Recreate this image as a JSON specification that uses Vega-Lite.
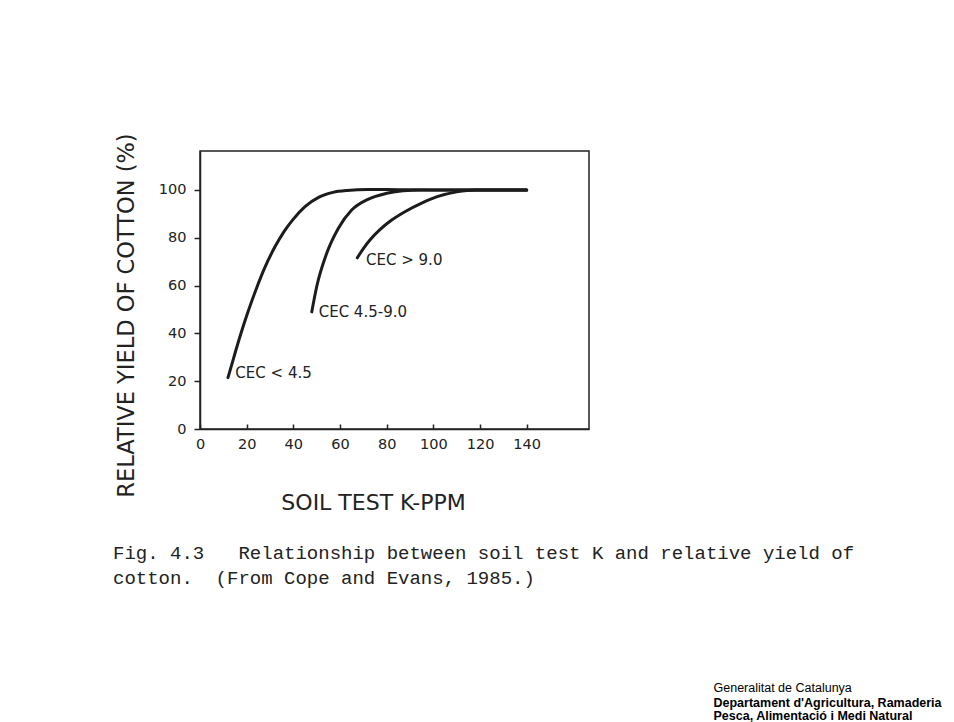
{
  "$schema": "https://vega.github.io/schema/vega-lite/v6.json",
  "width": 389,
  "height": 278,
  "autosize": {"type": "none"},
  "padding": {"left": 200, "top": 151, "right": 365, "bottom": 293},
  "background": "white",
  "config": {
    "view": {"stroke": "#222", "strokeWidth": 1.5},
    "axis": {"grid": false}
  },
  "title": {
    "text": ["Fig. 4.3\u00a0\u00a0\u00a0Relationship between soil test K and relative yield of", "cotton.\u00a0\u00a0(From Cope and Evans, 1985.)"],
    "orient": "bottom",
    "anchor": "start",
    "frame": "group",
    "dx": -87,
    "offset": -178,
    "font": "Liberation Mono",
    "fontSize": 19,
    "fontWeight": "normal",
    "color": "#222",
    "lineHeight": 25
  },
  "datasets": {
    "curves": [
      {"series": "CEC<4.5", "k": 12, "yield": 21.5},
      {"series": "CEC<4.5", "k": 14.5, "yield": 30},
      {"series": "CEC<4.5", "k": 17.1, "yield": 38.6},
      {"series": "CEC<4.5", "k": 20.5, "yield": 48.8},
      {"series": "CEC<4.5", "k": 24.3, "yield": 59.1},
      {"series": "CEC<4.5", "k": 28, "yield": 68},
      {"series": "CEC<4.5", "k": 32, "yield": 76},
      {"series": "CEC<4.5", "k": 36, "yield": 82.6},
      {"series": "CEC<4.5", "k": 40, "yield": 87.8},
      {"series": "CEC<4.5", "k": 45, "yield": 93},
      {"series": "CEC<4.5", "k": 51, "yield": 97},
      {"series": "CEC<4.5", "k": 57, "yield": 99},
      {"series": "CEC<4.5", "k": 63, "yield": 99.8},
      {"series": "CEC<4.5", "k": 72, "yield": 100.2},
      {"series": "CEC<4.5", "k": 85, "yield": 100.1},
      {"series": "CEC<4.5", "k": 100, "yield": 100},
      {"series": "CEC<4.5", "k": 140, "yield": 100},
      {"series": "CEC 4.5-9.0", "k": 47.9, "yield": 49},
      {"series": "CEC 4.5-9.0", "k": 50, "yield": 59.5},
      {"series": "CEC 4.5-9.0", "k": 54.3, "yield": 73.5},
      {"series": "CEC 4.5-9.0", "k": 59.3, "yield": 84},
      {"series": "CEC 4.5-9.0", "k": 65, "yield": 91.6},
      {"series": "CEC 4.5-9.0", "k": 72, "yield": 96.1},
      {"series": "CEC 4.5-9.0", "k": 80, "yield": 98.6},
      {"series": "CEC 4.5-9.0", "k": 87, "yield": 99.7},
      {"series": "CEC 4.5-9.0", "k": 95, "yield": 100},
      {"series": "CEC 4.5-9.0", "k": 140, "yield": 100},
      {"series": "CEC>9.0", "k": 67.4, "yield": 71.6},
      {"series": "CEC>9.0", "k": 70, "yield": 75.5},
      {"series": "CEC>9.0", "k": 73, "yield": 79.3},
      {"series": "CEC>9.0", "k": 77, "yield": 83.3},
      {"series": "CEC>9.0", "k": 82, "yield": 87.3},
      {"series": "CEC>9.0", "k": 88, "yield": 91},
      {"series": "CEC>9.0", "k": 95, "yield": 94.5},
      {"series": "CEC>9.0", "k": 102, "yield": 97.3},
      {"series": "CEC>9.0", "k": 110, "yield": 99.2},
      {"series": "CEC>9.0", "k": 118, "yield": 100},
      {"series": "CEC>9.0", "k": 140, "yield": 100}
    ],
    "labels": [
      {"label": "CEC < 4.5", "k": 14.3, "yield": 23.6},
      {"label": "CEC 4.5-9.0", "k": 50, "yield": 49},
      {"label": "CEC > 9.0", "k": 70.3, "yield": 70.7}
    ]
  },
  "layer": [
    {
      "data": {"name": "curves"},
      "mark": {"type": "line", "interpolate": "monotone", "strokeWidth": 3, "color": "#1c1c1c", "strokeCap": "round"},
      "encoding": {
        "x": {
          "field": "k", "type": "quantitative",
          "scale": {"domain": [0, 166.7], "nice": false, "zero": false},
          "axis": {
            "values": [0, 20, 40, 60, 80, 100, 120, 140],
            "title": "SOIL TEST K-PPM",
            "titleFont": "DejaVu Sans", "titleFontSize": 22, "titleFontWeight": "normal", "titleColor": "#222",
            "titleX": 173, "titleY": 73, "titleAlign": "center", "titleBaseline": "middle",
            "labelFont": "DejaVu Sans", "labelFontSize": 14.5, "labelColor": "#222", "labelFlush": false,
            "tickSize": -5, "tickColor": "#222", "tickWidth": 1.5,
            "domainColor": "#222", "domainWidth": 1.5, "labelPadding": 13
          }
        },
        "y": {
          "field": "yield", "type": "quantitative",
          "scale": {"domain": [0, 116.3], "nice": false, "zero": false},
          "axis": {
            "values": [0, 20, 40, 60, 80, 100],
            "title": "RELATIVE YIELD OF COTTON (%)",
            "titleFont": "DejaVu Sans", "titleFontSize": 22.5, "titleFontWeight": "normal", "titleColor": "#222",
            "titleX": -67, "titleY": 164, "titleAngle": 270, "titleAlign": "center", "titleBaseline": "alphabetic",
            "labelFont": "DejaVu Sans", "labelFontSize": 14.5, "labelColor": "#222", "labelFlush": false,
            "tickSize": 6, "tickColor": "#222", "tickWidth": 1.5,
            "domainColor": "#222", "domainWidth": 1.5, "labelPadding": 8
          }
        },
        "detail": {"field": "series"}
      }
    },
    {
      "data": {"name": "labels"},
      "mark": {"type": "text", "align": "left", "baseline": "middle", "font": "DejaVu Sans", "fontSize": 15, "color": "#222", "dx": 2},
      "encoding": {
        "x": {
          "field": "k", "type": "quantitative",
          "scale": {"domain": [0, 166.7], "nice": false, "zero": false},
          "axis": {
            "orient": "top", "labels": false, "ticks": false, "domain": false,
            "title": ["Departament d'Agricultura, Ramaderia", "Pesca, Alimentació i Medi Natural"],
            "titleX": 513, "titleY": 545, "titleAlign": "left", "titleBaseline": "top", "titleAngle": 0,
            "titleFont": "Liberation Sans", "titleFontSize": 12.5, "titleFontWeight": "bold", "titleLineHeight": 13.5, "titleColor": "#000"
          }
        },
        "y": {
          "field": "yield", "type": "quantitative",
          "scale": {"domain": [0, 116.3], "nice": false, "zero": false},
          "axis": {
            "orient": "right", "labels": false, "ticks": false, "domain": false,
            "title": "Generalitat de Catalunya",
            "titleX": 124, "titleY": 536, "titleAlign": "left", "titleBaseline": "middle", "titleAngle": 0,
            "titleFont": "Liberation Sans", "titleFontSize": 12.5, "titleFontWeight": "normal", "titleColor": "#000"
          }
        },
        "text": {"field": "label"}
      }
    }
  ],
  "resolve": {"axis": {"x": "independent", "y": "independent"}}
}
